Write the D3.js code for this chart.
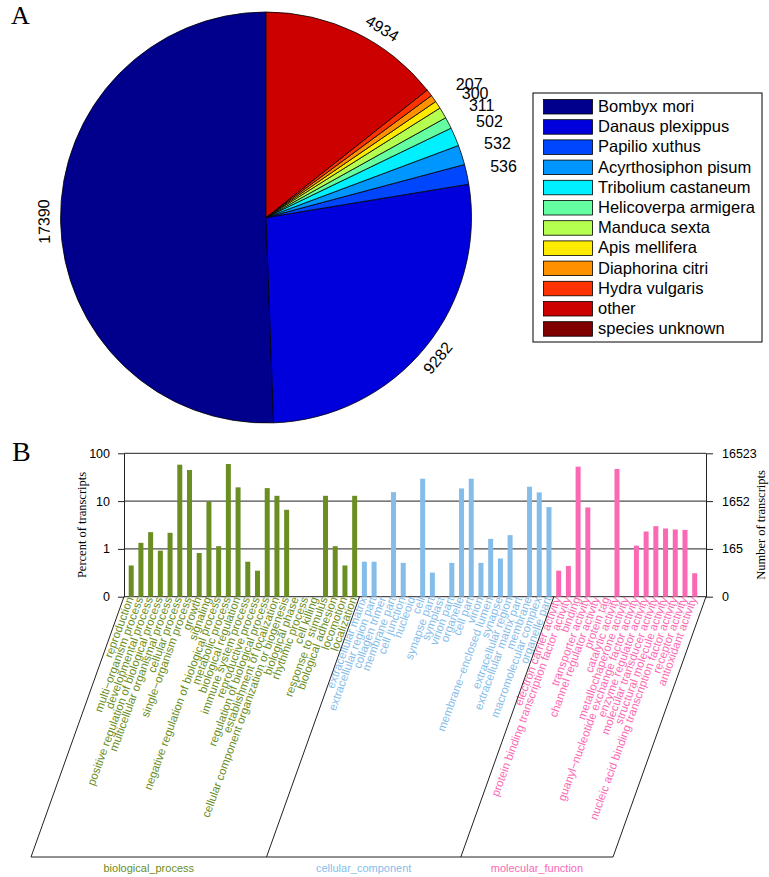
<!DOCTYPE html>
<html><head><meta charset="utf-8">
<script src="https://cdn.jsdelivr.net/npm/d3@7"></script>
<style>body{margin:0;background:#fff}svg{display:block}</style>
</head><body>
<svg id="c" width="769" height="877"></svg>
<script>
// ---------- Panel A data ----------
const species = ["Bombyx mori","Danaus plexippus","Papilio xuthus","Acyrthosiphon pisum","Tribolium castaneum","Helicoverpa armigera","Manduca sexta","Apis mellifera","Diaphorina citri","Hydra vulgaris","other","species unknown"];
const speciesCounts = [17390,9282,536,532,502,311,300,207,195,185,4934,0];
const speciesLabels = ["17390","9282","536","532","502","311","300","207","","","4934",""];
const speciesColors = ["#00008C","#0000DC","#0046FF","#0096FF","#00F0FF","#64FFA0","#B4FF50","#FFEB00","#FF9100","#FF3200","#CD0000","#800000"];

// ---------- Panel B data ----------
const bpTerms = ["reproduction","multi\u2212organism process","developmental process","positive regulation of biological process","multicellular organismal process","cellular process","single\u2212organism process","growth","signaling","negative regulation of biological process","metabolic process","biological regulation","immune system process","reproductive process","regulation of biological process","establishment of localization","cellular component organization or biogenesis","biological phase","rhythmic process","cell killing","response to stimulus","biological adhesion","locomotion","localization"];
const bpPercent = [0.45,1.34,2.24,0.92,2.17,57.8,44.7,0.82,9.84,1.14,59.7,19.4,0.54,0.35,18.7,12.9,6.58,0,0,0,12.9,1.14,0.45,12.9];
const ccTerms = ["extracellular matrix","extracellular region part","collagen trimer","membrane part","cell junction","nucleoid","cell","synapse part","symplast","virion part","organelle","cell part","virion","membrane\u2212enclosed lumen","synapse","extracellular region","extracellular matrix part","membrane","macromolecular complex","organelle part"];
const ccPercent = [0.54,0.54,0,15.4,0.51,0,29.4,0.32,0,0.51,18.4,29.4,0.51,1.62,0.63,1.94,0,20.0,15.2,7.48];
const mfTerms = ["electron carrier activity","protein binding transcription factor activity","binding","transporter activity","channel regulator activity","protein tag","catalytic activity","metallochaperone activity","guanyl\u2212nucleotide exchange factor activity","enzyme regulator activity","molecular transducer activity","structural molecule activity","nucleic acid binding transcription factor activity","receptor activity","antioxidant activity"];
const mfPercent = [0.35,0.44,52.5,7.36,0,0,46.9,0,1.17,2.31,2.99,2.67,2.55,2.50,0.31];
const groupNames = ["biological_process","cellular_component","molecular_function"];
const groupColors = ["#6B8E23","#85BDEA","#FB69B4"];
const percentTicks = [0.1,1,10,100];
const percentTickLabels = ["0","1","10","100"];
const countTickLabels = ["0","165","1652","16523"];

const svg = d3.select("#c");
const SANS = "'Liberation Sans', Arial, sans-serif";
const SERIF = "'Liberation Serif', 'Times New Roman', serif";

// ---------- Panel letters ----------
svg.append("text").attr("x",11).attr("y",24).attr("font-family",SERIF).attr("font-size",26).text("A");
svg.append("text").attr("x",12).attr("y",461).attr("font-family",SERIF).attr("font-size",28).text("B");

// ---------- Pie ----------
const R = 205.5;
const pieG = svg.append("g").attr("transform","translate(266,217.5)");
const pie = d3.pie().sort(null).startAngle(0).endAngle(-2*Math.PI);
const arcs = pie(speciesCounts);
const arc = d3.arc().innerRadius(0).outerRadius(R);
pieG.selectAll("path").data(arcs.filter(d=>d.value>0)).join("path")
  .attr("d",arc).attr("fill",d=>speciesColors[d.index])
  .attr("stroke","#000").attr("stroke-width",0.8).attr("stroke-linejoin","round");
arcs.forEach(d=>{
  const lab = speciesLabels[d.index];
  if(!lab) return;
  let mid = (d.startAngle+d.endAngle)/2;
  const big = d.value > 1000;
  // labels near the top are nudged clockwise so they clear the panel edge
  if(big && Math.abs(mid) > 1.5*Math.PI) mid += 0.1;
  const deg = ((mid*180/Math.PI)%360+360)%360;
  const r = big ? 222 : 243;
  const px = r*Math.sin(mid), py = -r*Math.cos(mid);
  let rot = 0;
  if(big){ rot = deg<=90 ? deg : (deg<200 ? deg-180 : deg-360); }
  pieG.append("text").attr("transform",`translate(${px},${py}) rotate(${rot})`)
    .attr("text-anchor","middle").attr("dominant-baseline","central")
    .attr("font-family",SANS).attr("font-size",16).text(lab);
});

// ---------- Legend ----------
const lg = svg.append("g");
lg.append("rect").attr("x",533).attr("y",93).attr("width",229).attr("height",249)
  .attr("fill","#fff").attr("stroke","#000").attr("stroke-width",1);
species.forEach((s,i)=>{
  const ty = 99.5 + i*20.2;
  lg.append("rect").attr("x",543.5).attr("y",ty).attr("width",49).attr("height",14.5)
    .attr("fill",speciesColors[i]).attr("stroke","#000").attr("stroke-width",0.8);
  lg.append("text").attr("x",598).attr("y",ty+12.5).attr("font-family",SANS).attr("font-size",16.5).text(s);
});

// ---------- Bar chart ----------
const allTerms = bpTerms.concat(ccTerms, mfTerms);
const allPct = bpPercent.concat(ccPercent, mfPercent);
const groupOf = bpTerms.map(()=>0).concat(ccTerms.map(()=>1), mfTerms.map(()=>2));
const x = d3.scalePoint().domain(d3.range(allTerms.length)).range([131.2,694.7]);
const y = d3.scaleLog().domain([0.1,100]).range([596.7,453.3]);
const L = 124, Rt = 706;

const bg = svg.append("g");
bg.selectAll("line.grid").data(percentTicks).join("line").attr("class","grid")
  .attr("x1",L).attr("x2",Rt).attr("y1",d=>y(d)).attr("y2",d=>y(d))
  .attr("stroke","#222").attr("stroke-width",1);

bg.selectAll("rect.bar").data(allPct.map((v,i)=>({v,i})).filter(d=>d.v>0)).join("rect").attr("class","bar")
  .attr("x",d=>x(d.i)-2.5).attr("width",5)
  .attr("y",d=>y(d.v)).attr("height",d=>y(0.1)-y(d.v))
  .attr("fill",d=>groupColors[groupOf[d.i]]);

const axL = bg.append("g").attr("transform",`translate(${L},0)`)
  .call(d3.axisLeft(y).tickValues(percentTicks).tickFormat((d,i)=>percentTickLabels[i]).tickSize(6).tickSizeOuter(0).tickPadding(8));
const axR = bg.append("g").attr("transform",`translate(${Rt},0)`)
  .call(d3.axisRight(y).tickValues(percentTicks).tickFormat((d,i)=>countTickLabels[i]).tickSize(7).tickSizeOuter(0).tickPadding(9));
[axL,axR].forEach(a=>{
  a.selectAll("path,line").attr("stroke","#222");
  a.selectAll("text").attr("font-family",SANS).attr("font-size",12.5).attr("fill","#000");
});

svg.append("text").attr("transform",`translate(86,${(y(0.1)+y(100))/2}) rotate(-90)`)
  .attr("text-anchor","middle").attr("font-family",SERIF).attr("font-size",12.5).text("Percent of transcripts");
svg.append("text").attr("transform",`translate(765,${(y(0.1)+y(100))/2}) rotate(-90)`)
  .attr("text-anchor","middle").attr("font-family",SERIF).attr("font-size",12.5).text("Number of transcripts");

// category labels
bg.selectAll("text.cat").data(allTerms).join("text").attr("class","cat")
  .attr("transform",(d,i)=>`translate(${x(i)+2.5},598.5) rotate(-70)`)
  .attr("text-anchor","end").attr("font-family",SANS).attr("font-size",11.5)
  .attr("fill",(d,i)=>groupColors[groupOf[i]]).text(d=>d);

// group frames
const nB = bpTerms.length, nC = ccTerms.length;
const tops = [L, (x(nB-1)+x(nB))/2, (x(nB+nC-1)+x(nB+nC))/2, Rt];
const y0 = y(0.1), yB = 857, slant = 93;
tops.forEach(t=>{
  bg.append("line").attr("x1",t).attr("y1",y0).attr("x2",t-slant).attr("y2",yB)
    .attr("stroke","#222").attr("stroke-width",1);
});
bg.append("line").attr("x1",L-slant).attr("x2",Rt-slant).attr("y1",yB).attr("y2",yB)
  .attr("stroke","#222").attr("stroke-width",1.2);
groupNames.forEach((g,i)=>{
  bg.append("text").attr("x",(tops[i]+tops[i+1])/2-slant).attr("y",872)
    .attr("text-anchor","middle").attr("font-family",SANS).attr("font-size",11)
    .attr("fill",groupColors[i]).text(g);
});
</script>
</body></html>
